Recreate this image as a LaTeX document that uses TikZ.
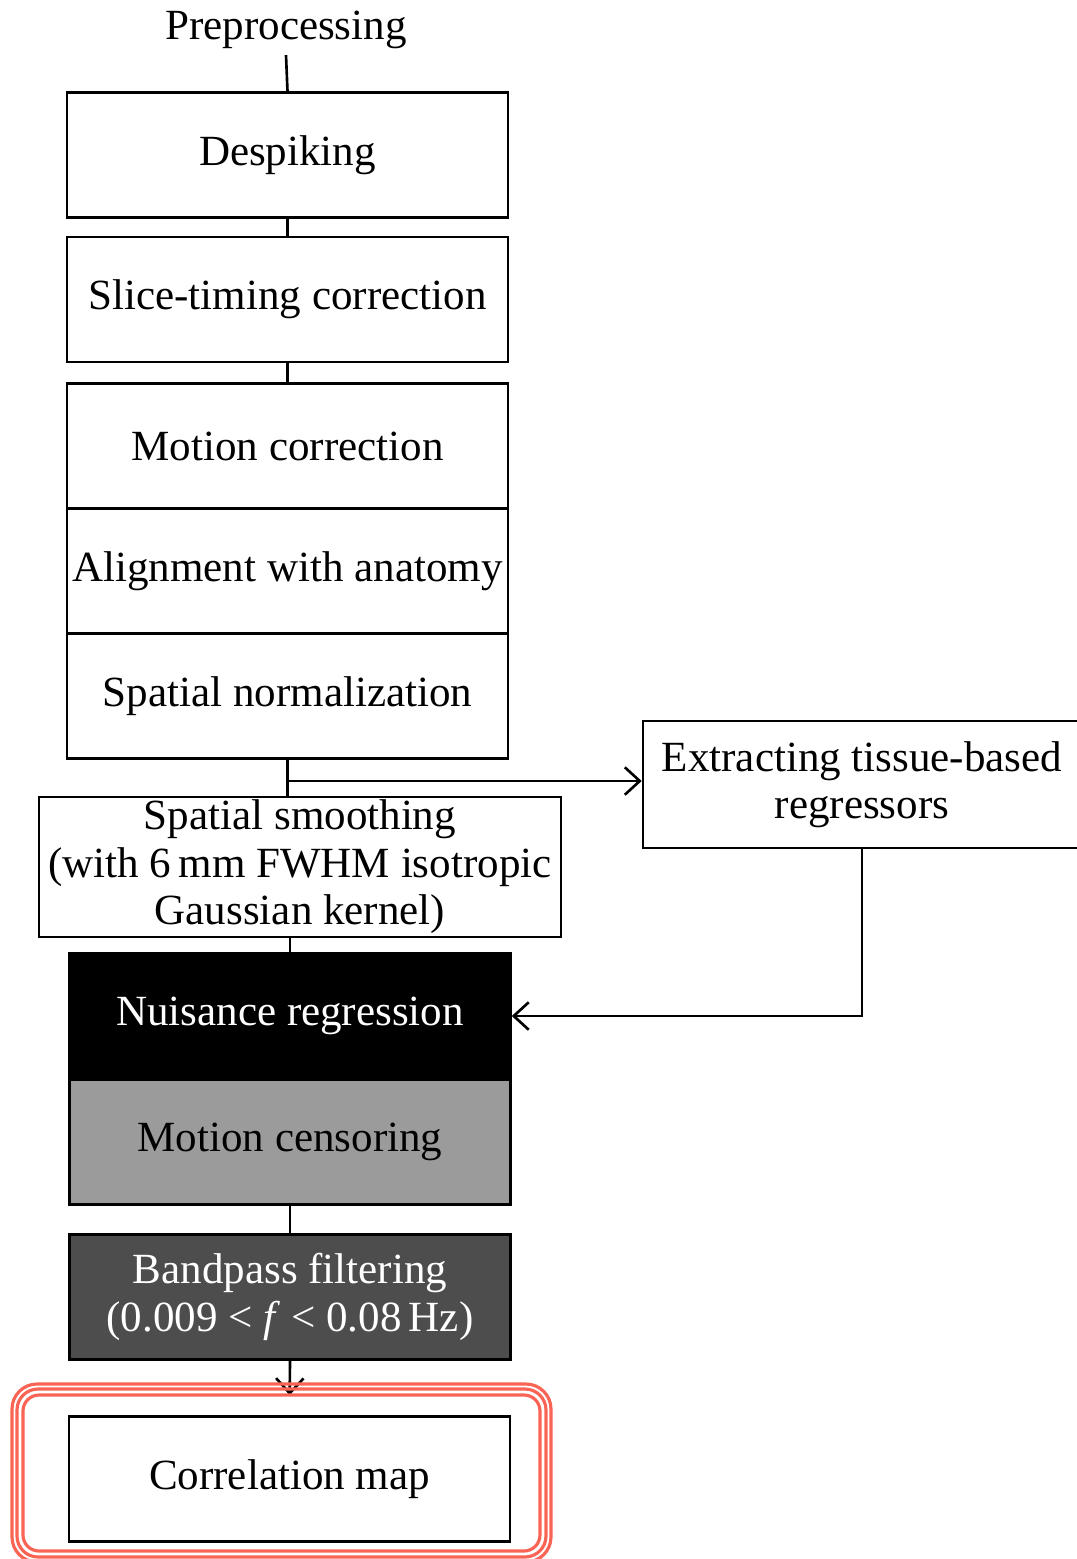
\documentclass[tikz,border=0pt]{standalone}
\usepackage{fontspec}
\setmainfont{Liberation Serif}
\usetikzlibrary{arrows.meta}
\definecolor{hilite}{RGB}{250,100,85}
\definecolor{censorgray}{RGB}{155,155,155}
\definecolor{bandgray}{RGB}{77,77,77}
\newcommand{\stagefont}{\fontsize{24.5}{27}\selectfont}
\begin{document}
\begin{tikzpicture}[x=0.02cm,y=-0.02cm,
	stage/.style={draw,line width=1.5pt,minimum width=8.82cm,minimum height=2.5cm,align=center,inner sep=0pt,font=\stagefont},
	link/.style={line width=1.5pt},
	arr/.style={line width=1.5pt,-{Straight Barb[length=0.3cm,width=0.55cm]}}]
	\useasboundingbox (0,0) rectangle (1076,1559);
	\node[font=\stagefont] (pre) at (286,30) {Preprocessing};
	\node[stage] (despike) at (287.5,155) {Despiking};
	\node[stage] (slice) at (287.5,299.5) {Slice-timing correction};
	\node[stage] (motion) at (287.5,446) {Motion correction};
	\node[stage] (align) at (287.5,571) {Alignment with anatomy};
	\node[stage] (snorm) at (287.5,696) {Spatial normalization};
	\node[stage,minimum width=10.44cm,minimum height=2.8cm] (smooth) at (300,867) {Spatial smoothing\\(with 6\,mm FWHM isotropic\\Gaussian kernel)};
	\node[stage,minimum width=8.76cm,minimum height=2.54cm] (extract) at (862,784.5) {Extracting tissue-based\\regressors};
	\node[stage,fill=black,text=white] (nuis) at (290,1016) {Nuisance regression};
	\node[stage,fill=censorgray] (censor) at (290,1142) {Motion censoring};
	\node[stage,fill=bandgray,text=white] (band) at (290,1297) {Bandpass filtering\\(0.009 < \textit{f} < 0.08\,Hz)};
	\node[stage] (corr) at (289.5,1479) {Correlation map};
	\coordinate (branch) at (287.5,781);
	\draw[link] (pre.south) -- (despike.north);
	\draw[link] (despike.south) -- (slice.north);
	\draw[link] (slice.south) -- (motion.north);
	\draw[link] (snorm.south) -- (snorm.south |- smooth.north);
	\draw[arr] (branch) -- (branch -| extract.west);
	\draw[link] (nuis.north |- smooth.south) -- (nuis.north);
	\draw[arr] (extract.south) |- (nuis.east);
	\draw[link] (censor.south) -- (band.north);
	\draw[arr,shorten >=0.4cm] (band.south) -- (corr.north);
	\foreach \d/\r in {0/0.5,5/0.42,11/0.32}
		\draw[hilite,line width=1.8pt,rounded corners=\r cm] ({12+\d},{1384+\d}) rectangle ({551-\d},{1562-\d});
\end{tikzpicture}
\end{document}
